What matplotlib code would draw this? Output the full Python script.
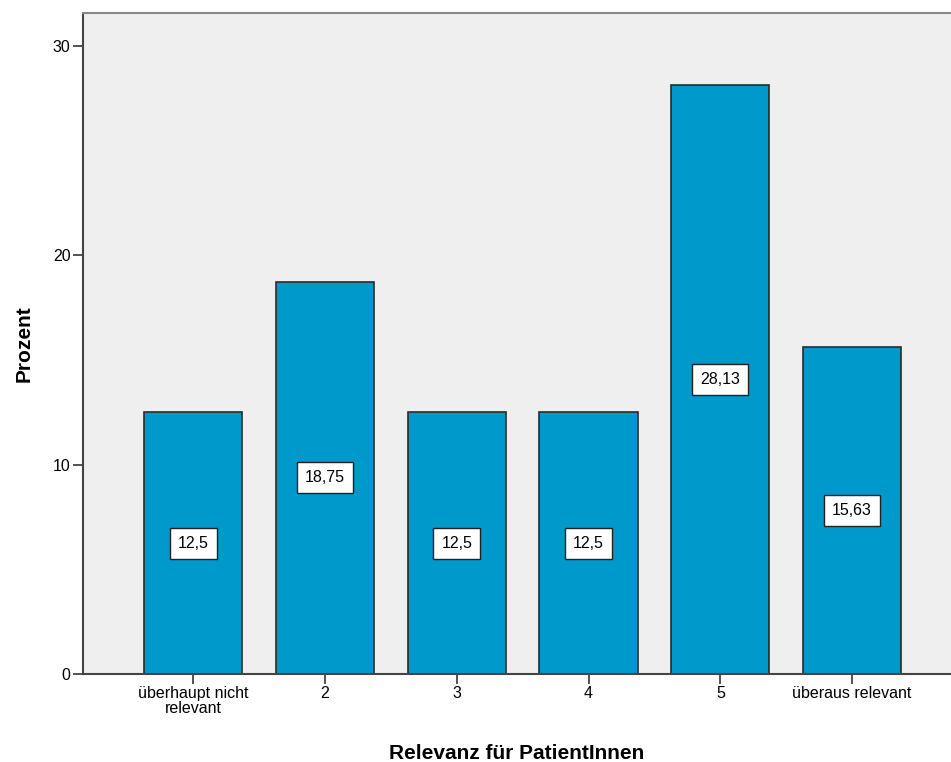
import matplotlib.pyplot as plt
import numpy as np

plt.rcParams['font.family'] = ['Liberation Sans', 'DejaVu Sans']

categories = ['überhaupt nicht\nrelevant', '2', '3', '4', '5', 'überaus relevant']
prozent = [12.5, 18.75, 12.5, 12.5, 28.13, 15.63]
labels = ['12,5', '18,75', '12,5', '12,5', '28,13', '15,63']
yticks = [0, 10, 20, 30]

fig = plt.figure(figsize=(9.51, 7.62), dpi=100)
ax = fig.add_axes([0.0873, 0.1155, 0.9127, 0.8675])
ax.set_facecolor('#efefef')

x = np.arange(len(categories))
ax.bar(x, prozent, width=0.745, color='#0099cc', edgecolor='#2b2b2b', linewidth=1.2, zorder=2)

# value boxes in the middle of each bar
for xi, val, lab in zip(x, prozent, labels):
    ax.text(xi, val / 2, lab, ha='center', va='center', fontsize=11.5, zorder=3,
            bbox=dict(boxstyle='square,pad=0.5', facecolor='white', edgecolor='#222222', linewidth=1))

ax.set_xlim(-0.835, 5.75)
ax.set_ylim(0, 31.58)
ax.set_xticks(x)
ax.set_xticklabels(categories, fontsize=11.5, linespacing=1.0)
ax.set_yticks(yticks)
ax.set_yticklabels([str(t) for t in yticks], fontsize=11.5)
ax.tick_params(axis='both', length=7, width=1.3, color='#444444', pad=2)

for side in ['left', 'bottom']:
    ax.spines[side].set_color('#444444')
    ax.spines[side].set_linewidth(1.5)
ax.spines['top'].set_color('#888888')
ax.spines['top'].set_linewidth(1.5)
ax.spines['right'].set_visible(False)

ax.set_ylabel('Prozent', fontsize=15, fontweight='bold', labelpad=14)
ax.set_xlabel('Relevanz für PatientInnen', fontsize=15, fontweight='bold', labelpad=20)

fig.savefig('out.png', dpi=100)
